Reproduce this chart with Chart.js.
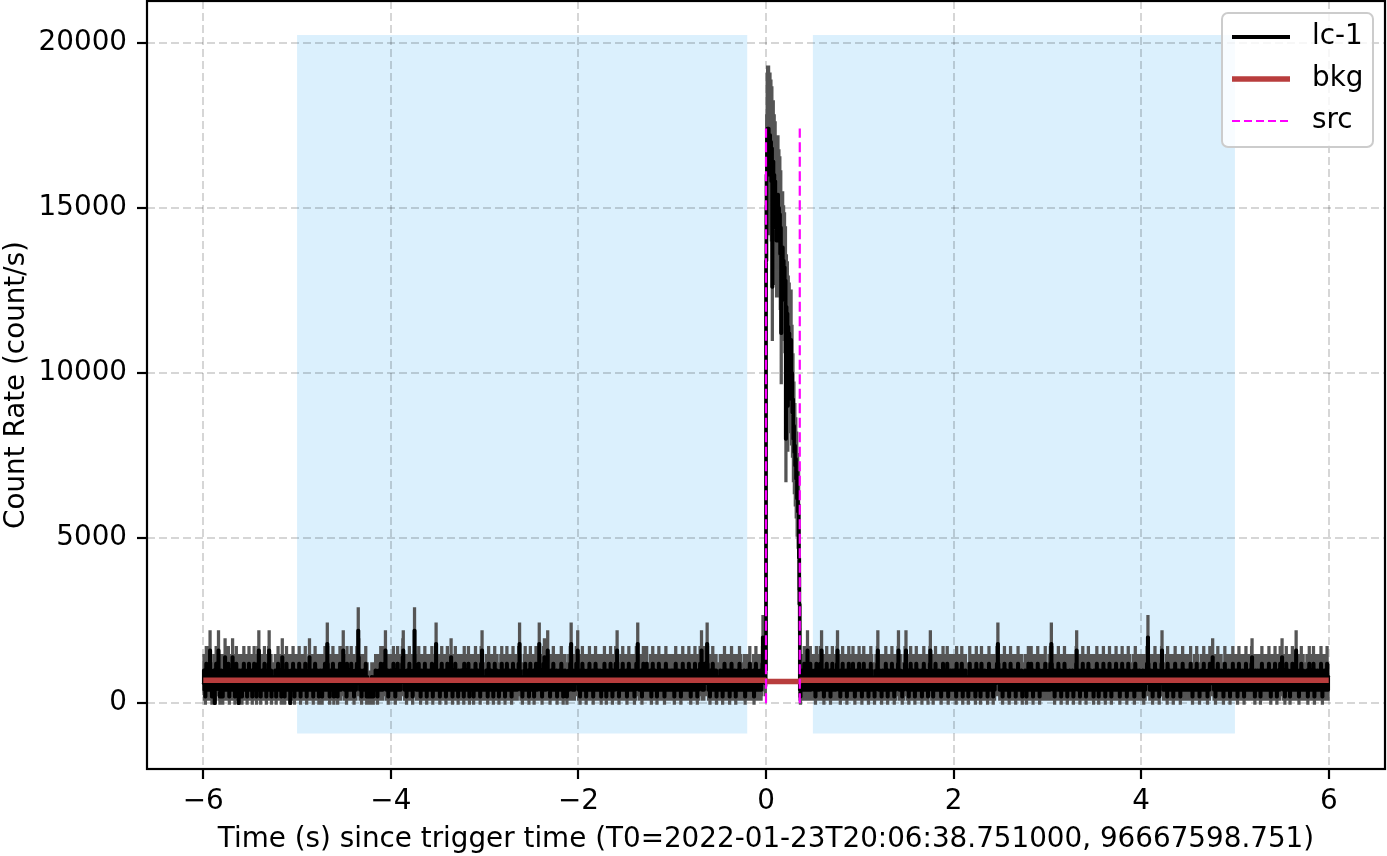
<!DOCTYPE html>
<html>
<head>
<meta charset="utf-8">
<script src="https://cdn.jsdelivr.net/npm/chart.js@4"></script>
<style>
html, body { margin: 0; padding: 0; background: #fff; }
#chart { display: block; }
</style>
</head>
<body>
<canvas id="chart" width="1387" height="856"></canvas>
<script>
// light curve: counts per 5 ms bin (rate = counts / BIN)
const BIN = 0.005;
const segStarts = [-6, 0, 0.36];

// -6 s .. 0 s
const countsBefore = [
3,5,2,4,1,3,6,2,4,3, 2,5,3,6,8,4,2,3,1,4, 3,2,5,4,0,3,2,6,4,3, 5,6,8,3,2,1,4,3,5,2, 4,1,3,2,5,3,7,2,3,4,
3,2,4,6,3,1,2,5,3,4, 2,3,7,4,2,5,3,1,4,3, 6,2,3,4,2,0,5,3,2,4, 3,5,1,2,4,3,6,2,3,5, 4,2,3,1,5,4,2,6,3,2,
2,4,3,5,1,3,2,4,6,3, 3,2,5,1,4,3,6,5,8,4, 2,3,1,4,3,5,2,3,4,2, 6,3,2,4,1,3,5,2,3,6, 8,4,2,3,5,1,2,4,3,2,
4,3,2,5,3,1,4,2,3,6, 2,4,3,5,2,3,1,4,7,3, 3,2,4,1,5,3,2,6,4,2, 5,3,2,4,3,0,2,5,3,4, 2,6,3,4,1,3,5,2,4,3,
3,5,2,4,6,3,2,1,4,3, 5,2,3,4,2,5,3,6,2,4, 1,3,4,2,3,5,7,3,2,4, 3,2,5,3,1,4,2,3,6,2, 4,3,2,5,3,4,1,3,2,5,
2,4,3,1,5,3,2,4,3,6, 3,2,5,4,9,6,3,2,4,1, 3,5,2,3,4,2,6,3,1,4, 2,3,5,4,2,3,1,5,3,2, 4,6,3,2,5,3,4,6,8,3,
3,2,4,5,3,1,6,2,4,3, 5,3,2,4,2,6,3,5,4,2, 3,1,4,3,5,2,4,6,3,5, 11,7,4,3,2,5,3,1,4,2, 3,5,2,4,3,2,6,3,1,4,
2,3,1,2,3,2,1,3,2,4, 3,2,1,2,4,3,2,5,3,2, 4,1,3,2,5,3,4,2,6,3, 5,3,2,4,3,6,4,5,8,3, 2,4,3,5,1,3,2,4,3,5,
3,4,2,5,3,6,2,4,3,1, 5,3,2,4,6,3,2,5,3,4, 2,3,5,4,6,7,8,5,3,2, 4,2,3,1,5,3,2,4,3,6, 2,5,3,4,2,3,1,5,4,3,
11,6,4,3,2,5,3,4,2,6, 3,2,4,1,3,5,2,4,3,2, 5,3,6,2,4,3,1,3,5,2, 4,3,2,5,3,4,2,6,3,1, 3,5,2,4,3,6,9,4,2,3,
4,2,3,5,1,3,2,4,6,3, 2,5,3,4,2,3,5,1,4,3, 6,3,2,4,3,5,2,3,7,4, 3,1,5,2,4,3,2,6,3,4, 2,3,4,1,5,3,2,4,3,5,
3,5,2,4,3,1,6,3,2,4, 5,2,3,4,2,6,3,1,4,3, 2,4,5,3,2,3,1,5,3,4, 6,2,3,4,2,5,3,2,4,3, 1,4,6,5,8,3,2,4,3,2,
4,3,2,5,3,4,1,3,6,2, 3,4,2,5,3,2,4,3,1,5, 2,6,3,4,2,3,5,4,2,3, 1,3,4,2,5,3,6,2,3,4, 3,2,5,1,4,3,2,6,4,3,
2,4,3,5,2,3,4,1,3,5, 6,3,2,4,3,5,2,3,4,2, 3,5,6,4,9,5,3,2,4,3, 1,4,3,2,5,3,6,2,4,3, 2,3,5,4,1,3,2,6,3,4,
3,2,4,3,5,1,3,4,2,6, 3,4,2,5,3,6,9,4,3,2, 5,3,1,4,2,6,3,7,4,3, 2,5,3,4,8,5,3,2,4,1, 3,5,2,3,4,2,6,3,2,4,
4,3,2,5,1,3,4,2,3,5, 2,4,3,6,3,2,5,1,4,3, 3,5,2,4,3,1,2,4,3,5, 2,3,6,5,9,4,3,2,5,3, 4,2,3,5,3,6,4,5,8,3,
2,4,3,1,5,3,2,4,6,3, 3,2,5,4,2,3,1,4,3,5, 4,3,2,6,3,5,2,3,4,2, 5,1,3,4,2,3,6,4,2,3, 3,5,2,4,3,2,5,3,1,4,
3,2,4,5,3,6,2,3,4,1, 2,5,3,4,2,3,5,2,6,3, 4,3,1,5,2,4,3,2,5,6, 3,5,8,4,2,3,1,4,3,2, 5,3,2,4,6,3,2,5,3,4,
2,3,5,1,4,3,2,6,3,4, 3,5,2,4,3,2,5,3,4,1, 3,2,4,6,5,4,9,5,3,2, 4,3,2,5,3,1,4,3,6,2, 3,4,5,2,3,6,3,2,4,3,
4,2,3,5,3,1,4,2,6,3, 2,4,3,5,2,3,4,1,3,5, 3,6,2,4,3,2,5,3,4,2, 5,3,2,1,4,3,6,2,3,4, 2,4,5,3,2,4,3,5,2,3,
3,5,2,4,1,3,2,6,3,4, 4,2,3,5,3,2,4,3,1,5, 2,3,6,4,2,3,5,2,4,3, 3,4,2,5,3,6,2,4,3,1, 5,3,4,2,3,5,2,3,6,4,
2,3,4,1,5,3,2,4,3,6, 3,5,8,4,2,3,5,2,4,6, 3,5,6,4,9,6,3,2,4,3, 1,5,3,2,4,3,6,2,3,5, 2,4,3,5,1,3,4,2,3,4,
4,2,5,3,2,4,3,1,5,3, 2,6,3,4,2,3,5,4,2,3, 5,3,1,4,3,2,6,3,4,2, 3,4,2,5,3,1,4,3,2,5, 3,2,4,6,3,5,2,3,4,2,
3,4,2,5,3,1,3,4,2,5, 2,3,5,4,2,6,3,2,4,3, 4,2,3,5,1,3,4,2,6,3, 3,5,2,4,3,2,4,3,5,2, 3,4,6,10,5,4,8,4,3,5
];

// 0 s .. 0.36 s (the burst)
const countsBurst = [
67,80,86,87,84,87,85,80,86,83,
85,79,84,63,78,82,76,80,74,79,
72,77,70,76,74,77,72,75,70,74,
68,72,56,68,66,69,64,67,63,66,
61,64,40,60,58,59,45,57,55,56,
50,54,48,55,46,50,44,46,40,42,
38,39,36,37,34,35,31,32,29,30,
22,15
];

// 0.36 s .. 6 s
const countsAfter = [
2,1,3,4,2,5,3,4,2,6, 3,5,4,3,2,4,8,5,3,2, 4,3,6,2,3,5,4,3,
3,4,2,5,3,1,4,6,3,2, 4,3,5,2,3,6,4,5,8,3, 2,4,3,1,5,3,2,4,3,6, 5,2,3,4,2,3,5,1,4,3, 2,6,3,4,5,2,3,4,2,3,
4,6,8,5,3,2,4,3,1,5, 3,2,4,6,3,5,2,3,4,2, 5,3,1,4,3,2,6,3,4,2, 3,5,2,4,3,6,2,3,5,1, 4,3,2,5,3,4,2,3,6,3,
2,3,5,4,1,3,2,4,6,3, 3,5,2,4,3,2,5,3,1,4, 4,2,3,6,3,5,2,4,3,2, 3,1,4,2,5,3,4,6,8,4, 2,3,5,3,4,2,1,3,5,2,
3,4,2,5,3,6,2,4,3,1, 5,3,2,4,3,5,2,3,6,4, 2,3,4,1,5,3,2,4,3,5, 3,6,8,4,2,3,5,2,4,3, 1,4,3,2,5,3,6,5,8,3,
4,2,3,5,1,3,4,2,6,3, 2,4,3,5,3,2,4,1,3,5, 6,3,2,4,3,5,2,3,4,2, 3,5,1,4,2,3,6,3,4,2, 5,3,2,4,3,1,4,5,3,6,
8,4,3,2,5,3,1,4,3,2, 4,6,3,5,2,3,4,2,5,3, 2,3,4,1,3,5,2,6,4,3, 3,2,5,4,3,2,6,3,1,4, 4,3,2,5,3,4,2,3,5,2,
3,5,2,4,3,1,6,3,2,4, 2,4,3,5,2,3,4,6,3,1, 5,3,2,4,3,5,2,3,4,2, 3,1,4,3,6,2,5,3,4,2, 4,3,5,2,3,4,1,3,6,3,
2,4,3,5,3,2,4,1,3,6, 3,5,2,4,3,2,5,3,4,2, 4,3,1,5,2,6,3,4,2,3, 5,2,4,3,1,3,5,2,4,3, 3,5,6,5,9,6,4,3,2,5,
3,2,4,5,1,3,4,2,6,3, 4,3,2,5,3,4,2,3,1,5, 2,6,3,4,2,3,5,4,3,2, 5,3,1,4,3,2,4,6,3,5, 2,3,4,3,5,2,1,4,3,4,
4,3,5,2,3,1,4,3,2,6, 3,2,4,5,3,6,2,4,3,1, 5,3,2,4,2,3,5,3,4,6, 2,4,3,1,5,3,2,4,3,2, 3,5,2,4,3,6,3,2,4,3,
2,4,3,5,3,2,6,5,9,6, 3,4,2,3,5,1,3,4,2,5, 4,3,2,6,3,4,2,3,5,1, 3,2,4,3,5,2,6,3,4,2, 5,3,1,4,3,2,4,5,3,2,
3,4,2,5,3,1,4,3,2,5, 4,6,8,4,3,2,5,3,4,1, 3,5,2,4,3,6,2,3,5,2, 4,3,1,5,2,3,4,6,3,2, 3,4,5,2,3,4,2,3,1,5,
4,3,2,5,3,6,2,4,3,1, 3,5,2,4,3,2,5,3,4,6, 2,3,4,1,5,3,2,4,3,5, 3,2,6,4,3,5,1,3,2,4, 5,3,2,4,3,2,6,3,4,2,
2,4,3,5,1,3,4,2,3,6, 5,3,2,4,3,5,2,4,3,1, 3,4,6,2,3,5,3,2,4,3, 4,2,3,5,3,1,4,6,2,3, 3,5,2,4,3,2,5,3,4,2,
3,4,2,5,3,1,4,3,2,5, 4,3,6,5,10,6,3,4,2,3, 5,2,4,3,1,3,5,2,4,6, 3,2,4,3,5,2,3,4,1,3, 5,3,4,6,8,5,3,2,4,3,
2,4,3,5,3,1,6,3,4,2, 3,5,2,4,3,2,5,3,1,4, 4,3,6,2,3,5,2,4,3,5, 3,2,4,1,5,3,4,2,6,3, 2,4,3,5,3,2,4,3,5,2,
3,5,2,4,3,6,2,3,4,1, 4,3,2,5,3,4,2,3,6,3, 5,2,4,3,1,3,4,2,5,3, 2,4,3,6,3,5,2,4,3,2, 3,1,5,4,3,2,6,4,5,3,
4,5,7,4,3,2,5,3,1,4, 3,2,4,6,3,5,2,3,4,2, 5,3,2,4,3,1,4,3,6,2, 3,5,2,4,3,2,5,3,4,1, 4,3,5,2,3,6,2,4,3,5,
2,4,3,5,3,1,4,2,6,3, 3,5,2,4,3,2,5,3,4,1, 4,3,2,6,3,5,2,4,3,2, 5,3,4,2,3,6,7,5,3,2, 3,4,1,5,3,2,4,3,5,3,
4,2,3,5,1,3,4,6,2,3, 3,5,2,4,3,2,5,3,4,2, 2,4,6,3,5,3,1,4,3,2, 5,3,2,4,3,6,2,3,4,1, 3,5,2,4,3,2,6,3,4,5,
7,4,3,2,5,3,1,4,3,6, 2,4,3,5,3,2,4,1,3,5, 3,2,6,4,3,5,2,3,4,2, 8,5,3,4,2,3,1,5,3,4, 2,6,3,4,3,5,2,3,4,2,
3,4,2,5,3,1,4,3,6,2, 4,3,5,2,3,4,2,6,3,1, 3,5,2,4,3,2,5,3,4,3, 2,4,3,6,3,5,1,4,2,3, 5,3,4,2,3,4,6,3,2,4
];

// fitted background (count/s)
const bkgTime = [-6, -0.01, 0.01, 0.35, 0.37, 6];
const bkgRate = [695, 695, 660, 660, 695, 695];

// source interval and selected background intervals
const srcTimes = [0, 0.36];
const srcRange = [0, 17400];
const spanTimes = [[-5, -0.2], [0.5, 5]];
const spanRange = [-915, 20230];

const xTicks = [-6, -4, -2, 0, 2, 4, 6];
const yTicks = [0, 5000, 10000, 15000, 20000];
const legendLabels = ['lc-1', 'bkg', 'src'];

const FONT = { family: 'DejaVu Sans', size: 27.8 };

const lc = [], upper = [], lower = [];
[countsBefore, countsBurst, countsAfter].forEach((seg, s) => {
    seg.forEach((n, i) => {
        const t = segStarts[s] + (i + 0.5) * BIN;
        const rate = n / BIN;
        const err = Math.sqrt(n) / BIN;
        lc.push({ x: t, y: rate });
        upper.push({ x: t, y: rate + err });
        lower.push({ x: t, y: rate - err });
    });
});

const bkg = bkgTime.map((t, i) => ({ x: t, y: bkgRate[i] }));
const srcLines = srcTimes.map(t => [{ x: t, y: srcRange[0] }, { x: t, y: srcRange[1] }]);

const spansPlugin = {
    id: 'spans',
    beforeDraw(chart) {
        const { ctx, chartArea: a, scales: { x, y } } = chart;
        ctx.save();
        ctx.fillStyle = '#fff';
        ctx.fillRect(0, 0, chart.width, chart.height);
        ctx.beginPath();
        ctx.rect(a.left, a.top, a.right - a.left, a.bottom - a.top);
        ctx.clip();
        ctx.fillStyle = 'rgba(135,206,250,0.3)';
        spanTimes.forEach(([t0, t1]) => {
            const x0 = x.getPixelForValue(t0), x1 = x.getPixelForValue(t1);
            const y0 = y.getPixelForValue(spanRange[1]), y1 = y.getPixelForValue(spanRange[0]);
            ctx.fillRect(x0, y0, x1 - x0, y1 - y0);
        });
        ctx.restore();
    }
};

const frameLegendPlugin = {
    id: 'frameLegend',
    afterDraw(chart) {
        const { ctx, chartArea: a } = chart;
        ctx.save();
        ctx.strokeStyle = '#000';
        ctx.lineWidth = 2.2;
        ctx.strokeRect(a.left, a.top, a.right - a.left, a.bottom - a.top);

        // legend box, upper right inside the axes
        const bw = 151, bh = 134;
        const bx = a.right - 12 - bw, by = a.top + 12, r = 6;
        ctx.beginPath();
        ctx.moveTo(bx + r, by);
        ctx.arcTo(bx + bw, by, bx + bw, by + bh, r);
        ctx.arcTo(bx + bw, by + bh, bx, by + bh, r);
        ctx.arcTo(bx, by + bh, bx, by, r);
        ctx.arcTo(bx, by, bx + bw, by, r);
        ctx.closePath();
        ctx.fillStyle = 'rgba(255,255,255,0.8)';
        ctx.fill();
        ctx.strokeStyle = 'rgba(204,204,204,1)';
        ctx.lineWidth = 2;
        ctx.stroke();

        const styles = [
            { color: '#000', width: 4.2, dash: [] },
            { color: '#b83d3d', width: 5.6, dash: [] },
            { color: '#ff00ff', width: 2.2, dash: [8, 4] }
        ];
        ctx.font = FONT.size + 'px ' + FONT.family;
        ctx.textBaseline = 'middle';
        ctx.textAlign = 'left';
        legendLabels.forEach((label, i) => {
            const yy = by + 24 + i * 42;
            ctx.beginPath();
            ctx.setLineDash(styles[i].dash);
            ctx.strokeStyle = styles[i].color;
            ctx.lineWidth = styles[i].width;
            ctx.moveTo(bx + 10, yy);
            ctx.lineTo(bx + 68, yy);
            ctx.stroke();
            ctx.setLineDash([]);
            ctx.fillStyle = '#000';
            ctx.fillText(label, bx + 90, yy);
        });
        ctx.restore();
    }
};

Chart.defaults.color = '#000';
Chart.defaults.font.family = FONT.family;

const gridOpts = { color: 'rgba(0,0,0,0.16)', lineWidth: 2, tickColor: '#000', tickWidth: 2.2, tickLength: 10 };
const GREY = '#555555';

new Chart(document.getElementById('chart'), {
    type: 'line',
    data: {
        datasets: [
            { label: 'src', data: srcLines[0], borderColor: '#ff00ff', borderWidth: 2.2, borderDash: [10, 4.5], pointRadius: 0, fill: false },
            { label: 'src2', data: srcLines[1], borderColor: '#ff00ff', borderWidth: 2.2, borderDash: [10, 4.5], pointRadius: 0, fill: false },
            { label: 'bkg', data: bkg, borderColor: '#b83d3d', borderWidth: 5.6, pointRadius: 0, fill: false },
            { label: 'lc-1', data: lc, borderColor: '#000', borderWidth: 3.6, borderJoinStyle: 'round', borderCapStyle: 'round',
              pointRadius: 0, stepped: 'middle', fill: false },
            { label: 'err+', data: upper, borderWidth: 2.8, borderColor: GREY, backgroundColor: GREY,
              pointRadius: 0, stepped: 'middle', fill: '+1' },
            { label: 'err-', data: lower, borderWidth: 2.8, borderColor: GREY, pointRadius: 0, stepped: 'middle', fill: false }
        ]
    },
    options: {
        responsive: false,
        animation: false,
        events: [],
        parsing: false,
        normalized: true,
        layout: { padding: { top: 1, right: 2, left: 0, bottom: 0 } },
        plugins: { legend: { display: false }, tooltip: { enabled: false } },
        scales: {
            x: {
                type: 'linear', min: -6.6, max: 6.6,
                afterBuildTicks: s => { s.ticks = xTicks.map(v => ({ value: v })); },
                afterFit: s => { s.height = 87; s.paddingLeft = 0; s.paddingRight = 0; },
                ticks: { font: FONT, padding: 6, maxRotation: 0, autoSkip: false,
                         callback: v => String(v).replace('-', '\u2212') },
                grid: gridOpts,
                border: { display: false, dash: [8, 4] },
                title: { display: true, text: 'Time (s) since trigger time (T0=2022-01-23T20:06:38.751000, 96667598.751)',
                         font: FONT, padding: { top: 0, bottom: 0 } }
            },
            y: {
                type: 'linear', min: -1990, max: 21260,
                afterBuildTicks: s => { s.ticks = yTicks.map(v => ({ value: v })); },
                afterFit: s => { s.width = 147; s.paddingTop = 0; s.paddingBottom = 0; },
                ticks: { font: FONT, padding: 10, autoSkip: false, callback: v => String(v) },
                grid: gridOpts,
                border: { display: false, dash: [8, 4] },
                title: { display: true, text: 'Count Rate (count/s)', font: FONT, padding: { top: 0, bottom: 0 } }
            }
        }
    },
    plugins: [spansPlugin, frameLegendPlugin]
});
</script>
</body>
</html>
